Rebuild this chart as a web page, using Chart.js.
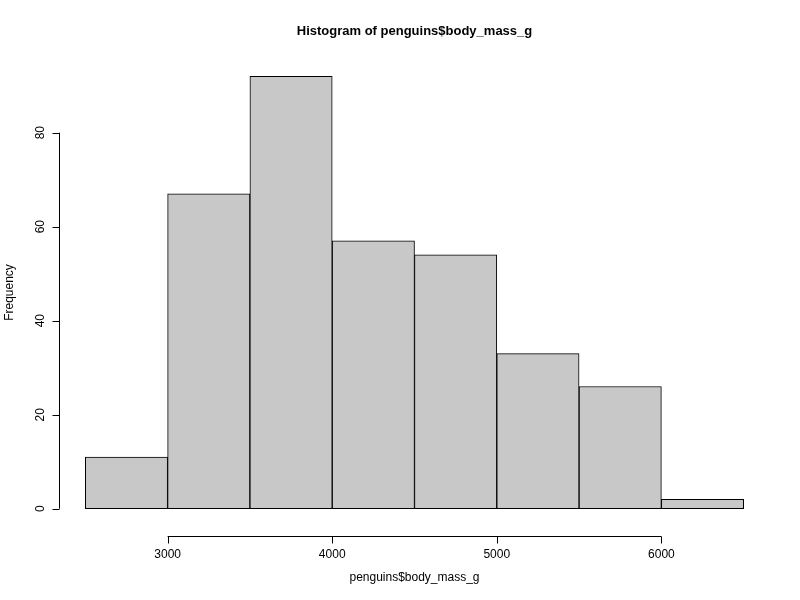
<!DOCTYPE html>
<html><head><meta charset="utf-8">
<script src="https://cdn.jsdelivr.net/npm/chart.js@4"></script>
<style>html,body{margin:0;padding:0;background:#fff}#w{width:800px;height:600px}</style>
</head><body><div id="w"><canvas id="c"></canvas></div>
<script>
const binMids = [2750,3250,3750,4250,4750,5250,5750,6250];
const counts = [11,67,92,57,54,33,26,2];
const xTicks = [3000,4000,5000,6000];
const yTicks = [0,20,40,60,80];
const title = 'Histogram of penguins$body_mass_g';
const xLabel = 'penguins$body_mass_g';
const yLabel = 'Frequency';
const F = '"Liberation Sans", Arial, sans-serif';

const axesPlugin = {
  id: 'rAxes',
  afterDraw(chart) {
    const ctx = chart.ctx, xs = chart.scales.x, ys = chart.scales.y, a = chart.chartArea;
    ctx.save();
    ctx.strokeStyle = '#000'; ctx.fillStyle = '#000'; ctx.lineWidth = 1;
    const ay = Math.round(a.bottom) + 10.5;
    ctx.beginPath();
    ctx.moveTo(xs.getPixelForValue(xTicks[0]), ay);
    ctx.lineTo(xs.getPixelForValue(xTicks[xTicks.length-1]), ay);
    ctx.font = '12px ' + F; ctx.textAlign = 'center'; ctx.textBaseline = 'top';
    xTicks.forEach(t => { const p = Math.round(xs.getPixelForValue(t)) + 0.5; ctx.moveTo(p, ay); ctx.lineTo(p, ay + 7); });
    ctx.stroke();
    xTicks.forEach(t => ctx.fillText(String(t), xs.getPixelForValue(t), ay + 12));
    const ax = Math.round(a.left) + 0.5;
    ctx.beginPath();
    ctx.moveTo(ax, ys.getPixelForValue(yTicks[0]));
    ctx.lineTo(ax, ys.getPixelForValue(yTicks[yTicks.length-1]));
    yTicks.forEach(t => { const p = Math.round(ys.getPixelForValue(t)) + 0.5; ctx.moveTo(ax, p); ctx.lineTo(ax - 7, p); });
    ctx.stroke();
    yTicks.forEach(t => { ctx.save(); ctx.translate(ax - 19, ys.getPixelForValue(t)); ctx.rotate(-Math.PI/2); ctx.textBaseline='middle'; ctx.fillText(String(t), 0, 0); ctx.restore(); });
    ctx.textBaseline = 'middle';
    ctx.fillText(xLabel, (a.left + a.right) / 2, 578);
    ctx.save(); ctx.translate(10, (a.top + a.bottom) / 2); ctx.rotate(-Math.PI/2); ctx.fillText(yLabel, 0, 0); ctx.restore();
    ctx.font = 'bold 13px ' + F;
    ctx.fillText(title, (a.left + a.right) / 2, 31);
    ctx.restore();
  }
};

new Chart(document.getElementById('c'), {
  type: 'bar',
  data: { datasets: [{ data: binMids.map((x, i) => ({ x, y: counts[i] })),
    backgroundColor: '#c8c8c8', borderColor: '#000', borderWidth: 1, borderSkipped: false,
    barPercentage: 1, categoryPercentage: 1 }] },
  options: {
    responsive: true, maintainAspectRatio: false, animation: false,
    layout: { padding: { left: 59, right: 30, top: 59, bottom: 74 } },
    plugins: { legend: { display: false }, tooltip: { enabled: false } },
    scales: {
      x: { type: 'linear', min: 2340, max: 6660, offset: false, display: false },
      y: { min: -3.68, max: 95.68, display: false }
    }
  },
  plugins: [axesPlugin]
});
</script></body></html>
